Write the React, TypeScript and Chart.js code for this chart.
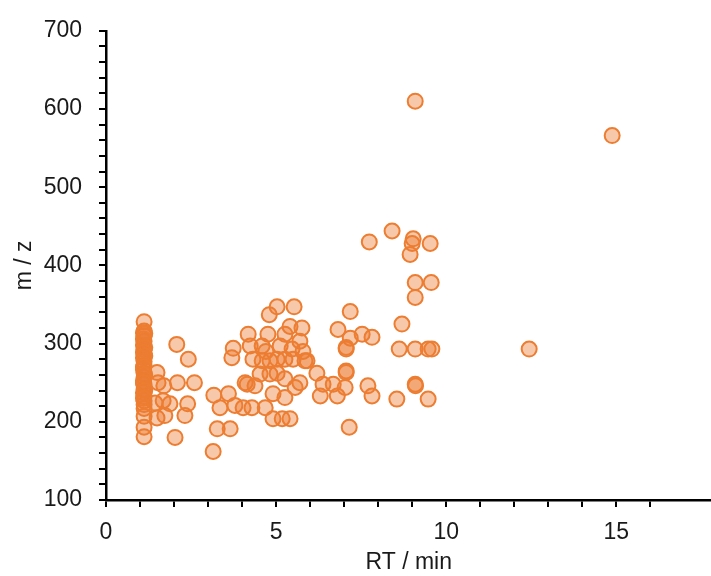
import React, { useEffect, useRef } from "react";
import { Chart, registerables } from "chart.js";

Chart.register(...registerables);

// Retention time (min) and m/z values
const columnRt = [1.12, 1.12, 1.1, 1.12, 1.12, 1.1, 1.12, 1.12, 1.1, 1.12, 1.12, 1.1, 1.12, 1.12, 1.1, 1.12, 1.12, 1.1, 1.12, 1.12, 1.12, 1.12, 1.12, 1.12, 1.12, 1.14, 1.1, 1.14, 1.1, 1.14, 1.1, 1.14, 1.1, 1.14, 1.1];
const columnMz = [328, 316, 314, 310, 303, 298, 292, 287, 282, 277, 272, 267, 262, 257, 252, 247, 242, 237, 232, 227, 222, 217, 207, 193, 181, 313, 306, 295, 289, 284, 270, 260, 250, 240, 230];

const earlyRt = [1.5, 1.53, 1.7, 1.44, 1.68, 1.88, 1.5, 1.73, 2.08, 2.42, 2.1, 2.6, 2.4, 2.32, 2.03, 3.15, 3.27, 3.65, 3.17, 3.6, 3.35, 3.74, 3.7, 3.79];
const earlyMz = [263, 250, 246, 224, 227, 223, 205, 208, 299, 280, 250, 250, 223, 208, 180, 162, 191, 191, 234, 236, 218, 294, 282, 221];

const midRt = [4.18, 4.76, 5.41, 5.76, 5.26, 5.7, 4.24, 4.59, 5.12, 5.47, 5.79, 4.32, 4.59, 4.82, 5.03, 5.26, 5.5, 5.85, 4.53, 4.82, 5.03, 5.26, 5.7, 5.56, 4.09, 4.38, 4.91, 5.26, 4.03, 4.29, 4.68, 4.91, 5.18, 5.41, 4.8, 5.03, 5.53, 5.91, 4.15, 4.7];
const midMz = [312, 312, 322, 320, 312, 303, 297, 297, 297, 293, 290, 280, 278, 278, 280, 280, 280, 278, 261, 261, 262, 255, 250, 244, 250, 246, 236, 231, 218, 218, 218, 204, 204, 204, 337, 347, 347, 278, 248, 290];

const lateRt = [6.2, 6.38, 6.68, 7.03, 6.3, 6.8, 7.18, 6.82, 7.18, 7.53, 7.82, 7.06, 7.06, 7.06, 7.06, 7.74, 7.7, 7.82, 7.15];
const lateMz = [262, 248, 248, 244, 233, 233, 341, 318, 307, 312, 308, 293, 295, 265, 263, 430, 246, 233, 193];

const farRt = [8.41, 9.03, 9.0, 8.94, 9.53, 9.09, 9.56, 9.09, 8.7, 8.62, 9.09, 9.47, 9.58, 9.09, 9.1, 8.55, 9.47, 9.09, 14.88, 12.44];
const farMz = [444, 434, 428, 414, 428, 378, 378, 359, 325, 293, 293, 293, 293, 248, 246, 229, 229, 610, 566, 293];

const xTickLabels = [0, 5, 10, 15];
const yTickLabels = [100, 200, 300, 400, 500, 600, 700];

const allRt = [...columnRt, ...earlyRt, ...midRt, ...lateRt, ...farRt];
const allMz = [...columnMz, ...earlyMz, ...midMz, ...lateMz, ...farMz];

export default function App() {
  const ref = useRef<HTMLCanvasElement | null>(null);

  useEffect(() => {
    if (!ref.current) return;
    const font = { family: "'Liberation Sans', Arial, sans-serif", size: 23 };
    const chart = new Chart(ref.current, {
      type: "scatter",
      data: {
        datasets: [
          {
            data: allRt.map((x, i) => ({ x, y: allMz[i] })),
            backgroundColor: "rgba(237,125,49,0.42)",
            borderColor: "#ED7D31",
            borderWidth: 2,
            pointRadius: 7.5,
            pointHoverRadius: 7.5,
          },
        ],
      },
      options: {
        animation: false,
        responsive: false,
        layout: { padding: { top: 27, left: 0, right: 0, bottom: 0 } },
        plugins: { legend: { display: false }, tooltip: { enabled: false } },
        scales: {
          x: {
            type: "linear",
            min: 0,
            max: 17.8,
            afterBuildTicks: (s: any) => {
              s.ticks = s.ticks.filter((t: any) => Number.isInteger(t.value));
            },
            afterFit: (s: any) => {
              s.height = 76;
            },
            ticks: {
              stepSize: 1,
              autoSkip: false,
              maxRotation: 0,
              padding: 12,
              color: "#1a1a1a",
              font,
              callback: (v: any) => (xTickLabels.includes(Number(v)) ? String(v) : ""),
            },
            grid: { drawOnChartArea: false, drawTicks: true, tickLength: 7, color: "#000", lineWidth: 2 },
            border: { display: true, color: "#000", width: 2.5 },
            title: { display: true, text: "RT / min", color: "#1a1a1a", font, padding: { top: 0, bottom: 0 } },
          },
          y: {
            type: "linear",
            min: 100,
            max: 700,
            afterFit: (s: any) => {
              s.width = 106;
            },
            ticks: {
              stepSize: 20,
              autoSkip: false,
              padding: 17,
              color: "#1a1a1a",
              font,
              callback: (v: any) => (yTickLabels.includes(Number(v)) ? String(v) : ""),
            },
            grid: { drawOnChartArea: false, drawTicks: true, tickLength: 7, color: "#000", lineWidth: 2 },
            border: { display: true, color: "#000", width: 2.5 },
            title: { display: true, text: "m / z", color: "#1a1a1a", font, padding: { top: 11, bottom: 0 } },
          },
        },
      },
    });
    return () => chart.destroy();
  }, []);

  return (
    <div style={{ position: "fixed", left: 0, top: 0, width: 711, height: 576, overflow: "hidden", background: "#fff" }}>
      <canvas ref={ref} width={721} height={576} style={{ display: "block" }} />
    </div>
  );
}
